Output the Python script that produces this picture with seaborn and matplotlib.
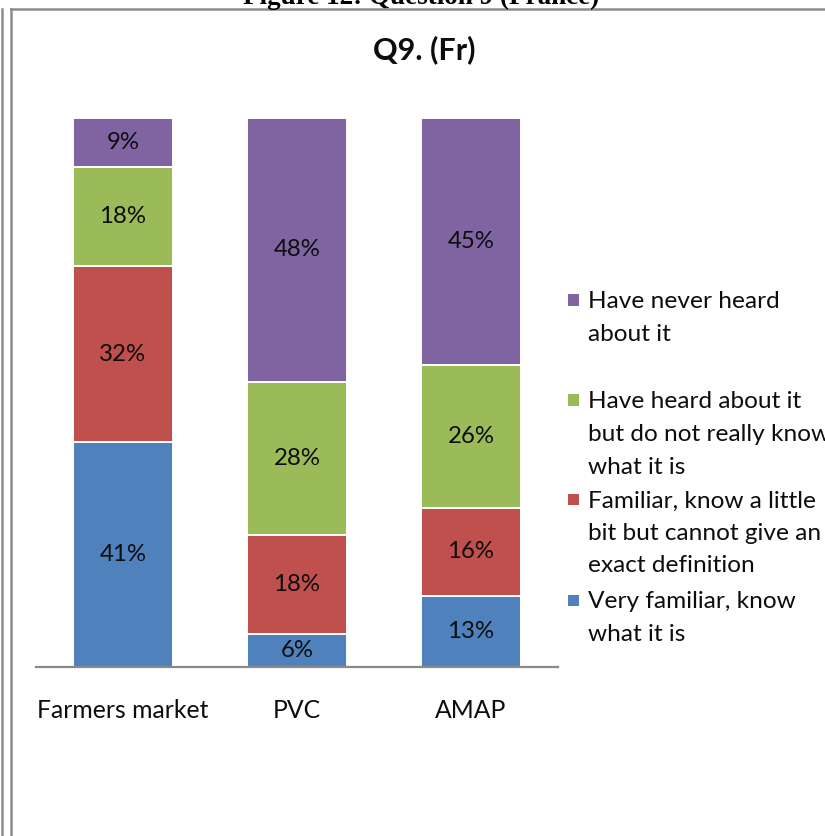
import matplotlib
matplotlib.use("Agg")
import matplotlib.pyplot as plt
import seaborn as sns
import numpy as np
from matplotlib.lines import Line2D
from matplotlib.patches import Rectangle

# Survey answers for question 9 (France), share of respondents in %
categories = ["Farmers market", "PVC", "AMAP"]
very_familiar = [41, 6, 13]
familiar = [32, 18, 16]
heard_of = [18, 28, 26]
never_heard = [9, 48, 45]

series_values = [very_familiar, familiar, heard_of, never_heard]
series_labels = [
    "Very familiar, know\nwhat it is",
    "Familiar, know a little\nbit but cannot give an\nexact definition",
    "Have heard about it\nbut do not really know\nwhat it is",
    "Have never heard\nabout it",
]
series_colors = ["#4F81BD", "#C0504D", "#9BBB59", "#8064A2"]

plt.rcParams["font.family"] = ["Lato", "DejaVu Sans"]
TEXT = "#0d0d0d"
W, H = 825, 836

fig = plt.figure(figsize=(W / 100, H / 100), dpi=100)
ax = fig.add_axes([36 / W, 1 - 667 / H, 522 / W, 549 / H])

# stacked 100% columns
bottom = np.zeros(len(categories))
for vals, color in zip(series_values, series_colors):
    sns.barplot(x=categories, y=vals, order=categories, bottom=bottom,
                color=color, saturation=1, width=0.57, errorbar=None,
                edgecolor="white", linewidth=1.4, ax=ax)
    for i, v in enumerate(vals):
        ax.text(i, bottom[i] + v / 2, f"{v}%", ha="center", va="center",
                fontsize=17.3, color=TEXT)
    bottom = bottom + np.array(vals)

ax.set_xlim(-0.5, 2.5)
ax.set_ylim(0, 100)
ax.set_yticks([])
ax.set_xlabel("")
ax.set_ylabel("")
for side in ("top", "left", "right"):
    ax.spines[side].set_visible(False)
ax.spines["bottom"].set_color("#8a8a8a")
ax.spines["bottom"].set_linewidth(1.6)
ax.tick_params(axis="x", length=0, pad=23, labelsize=17.8, labelcolor=TEXT)

# legend, top entry first, one fixed slot per entry
slot_tops = [600, 499, 400, 300]
for label, color, yc in zip(series_labels, series_colors, slot_tops):
    fig.add_artist(Rectangle((568 / W, 1 - (yc + 5.5) / H), 11 / W, 11 / H,
                             transform=fig.transFigure, facecolor=color,
                             edgecolor="none"))
    for k, line in enumerate(label.split("\n")):
        fig.text(588 / W, 1 - (yc + 8.5 + 32.5 * k) / H, line,
                 ha="left", va="baseline", fontsize=17.6, color=TEXT)

# chart title
fig.text(424 / W, 1 - 50 / H, "Q9. (Fr)", ha="center", va="center",
         fontsize=22, fontweight="bold", color=TEXT)

# document caption and frame lines
fig.text(421 / W, 1 - 4 / H, "Figure 12: Question 9 (France)", ha="center",
         va="baseline", fontsize=19.5, fontweight="bold",
         family=["Liberation Serif", "DejaVu Serif"], color="black")
frame = dict(transform=fig.transFigure, color="#8c8c8c", lw=1.8)
fig.add_artist(Line2D([11 / W, 11 / W], [0, 1 - 9 / H], **frame))
fig.add_artist(Line2D([11 / W, 1], [1 - 9 / H, 1 - 9 / H], **frame))
fig.add_artist(Line2D([1.5 / W, 1.5 / W], [0, 1 - 9 / H], **frame))

fig.savefig("out.png", dpi=100)
